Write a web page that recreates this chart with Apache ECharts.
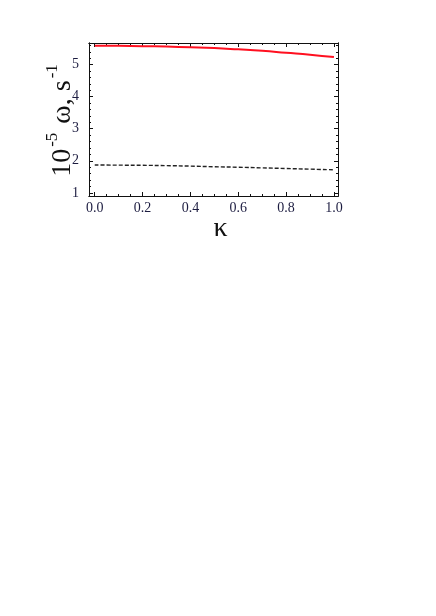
<!DOCTYPE html>
<html>
<head>
<meta charset="utf-8">
<script src="https://cdn.jsdelivr.net/npm/echarts@6/dist/echarts.min.js"></script>
<style>
  html, body { margin: 0; padding: 0; background: #fff; }
  #chart { width: 436px; height: 616px; }
</style>
</head>
<body>
<div id="chart"></div>
<script>
// kappa samples and the two curves
const kappa = [0, 0.1, 0.2, 0.3, 0.4, 0.5, 0.6, 0.7, 0.8, 0.9, 1.0]
const omegaRed = [5.59, 5.585, 5.575, 5.56, 5.54, 5.515, 5.475, 5.43, 5.37, 5.31, 5.235]
const omegaDashed = [1.87, 1.865, 1.86, 1.85, 1.835, 1.815, 1.8, 1.78, 1.76, 1.74, 1.72]

const xTicks = [0, 0.2, 0.4, 0.6, 0.8, 1.0]
const xMinorTicks = [0.05, 0.1, 0.15, 0.25, 0.3, 0.35, 0.45, 0.5, 0.55, 0.65, 0.7, 0.75, 0.85, 0.9, 0.95]
const yTicks = [1, 2, 3, 4, 5]
const yMinorTicks = [1.2, 1.4, 1.6, 1.8, 2.2, 2.4, 2.6, 2.8, 3.2, 3.4, 3.6, 3.8, 4.2, 4.4, 4.6, 4.8, 5.2, 5.4, 5.6]

const X_MIN = -0.024, X_MAX = 1.017
const Y_MIN = 0.903, Y_MAX = 5.673

const serif = 'Liberation Serif'
const ink = '#111'
const labelInk = '#1c1c40'

function frameAxis(position, min, max, ticks, len, opts) {
  return Object.assign({
    type: 'value',
    position,
    min,
    max,
    axisLine: { show: true, onZero: false, lineStyle: { color: ink, width: 1 } },
    axisTick: { show: true, inside: true, length: len, customValues: ticks, lineStyle: { color: ink, width: 1 } },
    axisLabel: { show: false },
    splitLine: { show: false },
  }, opts || {})
}

const chart = echarts.init(document.getElementById('chart'))

chart.setOption({
  backgroundColor: '#fff',
  animation: false,
  grid: { left: 89, top: 43, width: 249, height: 153 },
  xAxis: [
    frameAxis('bottom', X_MIN, X_MAX, xTicks, 4, {
      axisLabel: {
        show: true,
        customValues: xTicks,
        margin: 5,
        fontFamily: serif,
        fontSize: 14,
        color: labelInk,
        formatter: v => v.toFixed(1),
      },
      name: 'κ',
      nameLocation: 'middle',
      nameMoveOverlap: false,
      nameGap: 19,
      nameTextStyle: { fontFamily: serif, fontSize: 28, color: ink, padding: [0, 0, 0, 14] },
    }),
    frameAxis('bottom', X_MIN, X_MAX, xMinorTicks, 2),
    frameAxis('top', X_MIN, X_MAX, xTicks, 4),
    frameAxis('top', X_MIN, X_MAX, xMinorTicks, 2),
  ],
  yAxis: [
    frameAxis('left', Y_MIN, Y_MAX, yTicks, 4, {
      axisLabel: {
        show: true,
        customValues: yTicks,
        margin: 10,
        fontFamily: serif,
        fontSize: 14,
        color: labelInk,
      },
      name: '{b|10}{sup|-5}{b| ω, s}{sup|-1}',
      nameLocation: 'middle',
      nameRotate: 90,
      nameMoveOverlap: false,
      nameGap: 12,
      nameTextStyle: {
        color: ink,
        rich: {
          b: { fontFamily: serif, fontSize: 28, color: ink, verticalAlign: 'bottom' },
          sup: { fontFamily: serif, fontSize: 17, color: ink, verticalAlign: 'top', padding: [0, 2, 16, 2] },
        },
      },
    }),
    frameAxis('left', Y_MIN, Y_MAX, yMinorTicks, 2),
    frameAxis('right', Y_MIN, Y_MAX, yTicks, 4),
    frameAxis('right', Y_MIN, Y_MAX, yMinorTicks, 2),
  ],
  series: [
    {
      type: 'line',
      xAxisIndex: 0,
      yAxisIndex: 0,
      data: kappa.map((k, i) => [k, omegaRed[i]]),
      showSymbol: false,
      smooth: true,
      lineStyle: { color: '#ff1020', width: 2 },
    },
    {
      type: 'line',
      xAxisIndex: 0,
      yAxisIndex: 0,
      data: kappa.map((k, i) => [k, omegaDashed[i]]),
      showSymbol: false,
      smooth: true,
      lineStyle: { color: '#222', width: 1.4, type: [4, 2] },
    },
  ],
})
</script>
</body>
</html>
